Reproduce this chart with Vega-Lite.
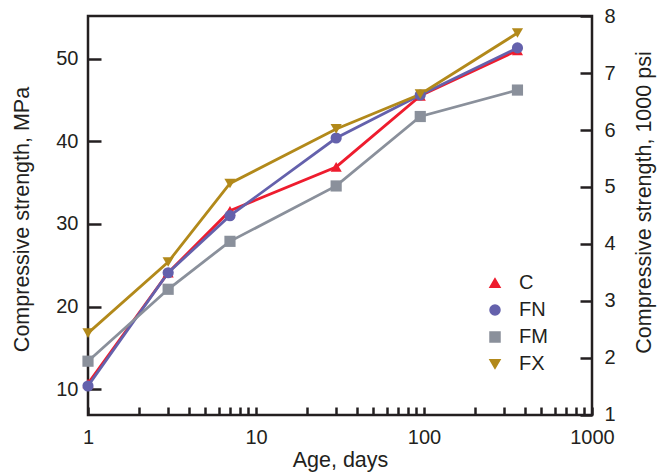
{
  "$schema": "https://vega.github.io/schema/vega-lite/v6.json",
  "width": 504,
  "height": 399,
  "autosize": {"type": "none"},
  "padding": {"left": 88, "top": 16, "right": 75, "bottom": 57},
  "background": "white",
  "config": {
    "font": "Liberation Sans",
    "view": {"stroke": "#231f20", "strokeWidth": 2.5},
    "axis": {
      "domain": false,
      "grid": false,
      "tickColor": "#231f20",
      "tickWidth": 2.5,
      "labelColor": "#231f20",
      "titleColor": "#231f20",
      "labelFontSize": 20,
      "titleFontSize": 21.5,
      "titleFontWeight": "normal",
      "labelFont": "Liberation Sans",
      "titleFont": "Liberation Sans"
    }
  },
  "data": {
    "values": [
      {"age": 1, "mpa": 10.7, "series": "C"},
      {"age": 3, "mpa": 24.1, "series": "C"},
      {"age": 7, "mpa": 31.6, "series": "C"},
      {"age": 30, "mpa": 36.9, "series": "C"},
      {"age": 95, "mpa": 45.5, "series": "C"},
      {"age": 360, "mpa": 51.0, "series": "C"},
      {"age": 1, "mpa": 10.4, "series": "FN"},
      {"age": 3, "mpa": 24.1, "series": "FN"},
      {"age": 7, "mpa": 31.0, "series": "FN"},
      {"age": 30, "mpa": 40.4, "series": "FN"},
      {"age": 95, "mpa": 45.6, "series": "FN"},
      {"age": 360, "mpa": 51.3, "series": "FN"},
      {"age": 1, "mpa": 13.4, "series": "FM"},
      {"age": 3, "mpa": 22.1, "series": "FM"},
      {"age": 7, "mpa": 27.9, "series": "FM"},
      {"age": 30, "mpa": 34.6, "series": "FM"},
      {"age": 95, "mpa": 43.0, "series": "FM"},
      {"age": 360, "mpa": 46.2, "series": "FM"},
      {"age": 1, "mpa": 16.8, "series": "FX"},
      {"age": 3, "mpa": 25.4, "series": "FX"},
      {"age": 7, "mpa": 34.9, "series": "FX"},
      {"age": 30, "mpa": 41.5, "series": "FX"},
      {"age": 95, "mpa": 45.7, "series": "FX"},
      {"age": 360, "mpa": 53.1, "series": "FX"}
    ]
  },
  "layer": [
    {
      "mark": {"type": "line", "strokeWidth": 2.8},
      "encoding": {
        "x": {
          "field": "age", "type": "quantitative",
          "scale": {"type": "log", "domain": [1, 1000], "nice": false},
          "axis": {
            "title": "Age, days",
            "values": [1,2,3,4,5,6,7,8,9,10,20,30,40,50,60,70,80,90,100,200,300,400,500,600,700,800,900,1000],
            "labelExpr": "indexof([1,10,100,1000], datum.value) >= 0 ? format(datum.value, 'd') : ''",
            "tickSize": -8,
            "labelPadding": 20,
            "labelFlush": false,
            "labelOverlap": false,
            "titlePadding": 2,
            "encode": {"ticks": {"y2": {"value": {"expr": "indexof([1,10,100,1000], datum.value) >= 0 ? -16 : -8"}}}}
          }
        },
        "y": {
          "field": "mpa", "type": "quantitative",
          "scale": {"domain": [6.89, 55.16], "nice": false, "zero": false},
          "axis": {
            "title": "Compressive strength, MPa",
            "values": [10, 20, 30, 40, 50],
            "tickSize": -13,
            "labelPadding": 23,
            "titleAngle": -90,
            "titleBaseline": "middle",
            "titleAlign": "center",
            "titleX": -66,
            "titleY": 203
          }
        },
        "color": {
          "field": "series", "type": "nominal",
          "scale": {"domain": ["C", "FN", "FM", "FX"], "range": ["#ee1c2e", "#6461ac", "#8a909b", "#b2891a"]}
        }
      }
    },
    {
      "mark": {"type": "point", "filled": true, "size": 125, "opacity": 1},
      "encoding": {
        "x": {"field": "age", "type": "quantitative", "scale": {"type": "log", "domain": [1, 1000], "nice": false}},
        "y": {"field": "mpa", "type": "quantitative", "scale": {"domain": [6.89, 55.16], "nice": false, "zero": false}, "axis": null},
        "color": {
          "field": "series", "type": "nominal",
          "scale": {"domain": ["C", "FN", "FM", "FX"], "range": ["#ee1c2e", "#6461ac", "#8a909b", "#b2891a"]},
          "legend": {
            "orient": "none",
            "legendX": 397,
            "legendY": 257,
            "title": null,
            "padding": 0,
            "labelFontSize": 20,
            "labelColor": "#231f20",
            "labelOffset": 14,
            "symbolSize": 100,
            "rowPadding": 7
          }
        },
        "shape": {
          "field": "series", "type": "nominal",
          "scale": {"domain": ["C", "FN", "FM", "FX"], "range": ["triangle-up", "circle", "square", "triangle-down"]},
          "legend": null
        }
      }
    },
    {
      "mark": {"type": "point", "opacity": 0},
      "encoding": {
        "x": {"field": "age", "type": "quantitative", "scale": {"type": "log", "domain": [1, 1000], "nice": false}},
        "y": {
          "field": "mpa", "type": "quantitative",
          "scale": {"domain": [6.89, 55.16], "nice": false, "zero": false},
          "axis": {
            "orient": "right",
            "title": "Compressive strength, 1000 psi",
            "values": [6.894757, 13.789514, 20.684271, 27.579028, 34.473785, 41.368542, 48.263299, 55.158056],
            "labelExpr": "format(datum.value / 6.894757, '.0f')",
            "tickSize": -12,
            "labelPadding": 24,
            "titleAngle": -90,
            "titleBaseline": "middle",
            "titleAlign": "center",
            "titleX": 52,
            "titleY": 186
          }
        }
      }
    }
  ],
  "resolve": {"scale": {"y": "independent"}, "axis": {"y": "independent"}}
}
